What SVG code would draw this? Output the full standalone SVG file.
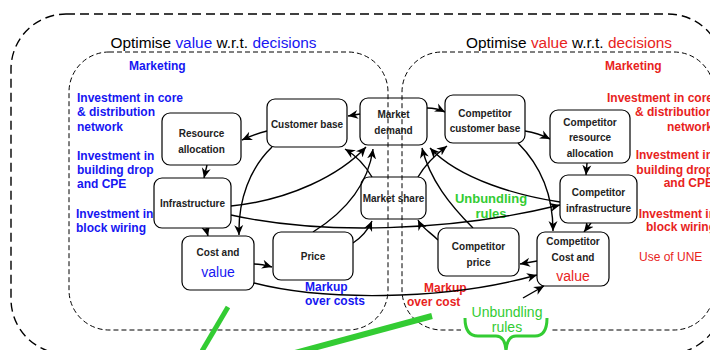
<svg xmlns="http://www.w3.org/2000/svg" width="710" height="350" viewBox="0 0 710 350">
  <defs>
    <marker id="arrow" markerUnits="userSpaceOnUse" markerWidth="11" markerHeight="11" refX="10" refY="5" orient="auto">
      <path d="M0,0.5 L10,5 L0,9.5 L3,5 Z" fill="#000"/>
    </marker>
    <style>
      text { font-family: "Liberation Sans", Arial, sans-serif; }
      .outer { fill: none; stroke: #000; stroke-width: 1.4; stroke-dasharray: 9 5; }
      .cluster { fill: none; stroke: #000; stroke-width: 1; stroke-dasharray: 5 3; }
      .title { font-size: 15.4px; fill: #000; }
      .node rect { fill: #fff; stroke: #000; stroke-width: 1.2; }
      .node.open rect { fill: none; }
      .node text { font-size: 10px; font-weight: bold; fill: #222; text-anchor: middle; }
      .node text.val { font-size: 14px; font-weight: normal; }
      .blue, .node text.blue { fill: #1616f2; }
      .red, .node text.red { fill: #e8231d; }
      .green { fill: #33cc33; }
      .side { font-size: 12px; font-weight: bold; }
      .conn path { fill: none; stroke: #000; stroke-width: 1.4; marker-end: url(#arrow); }
      .slash { stroke: #33cc33; fill: none; }
    </style>
  </defs>

  <rect width="710" height="350" fill="#fff"/>

  <!-- outer frame and the two decision clusters -->
  <rect class="outer" x="11" y="14" width="712" height="340" rx="55"/>
  <rect class="cluster" x="69" y="52" width="319" height="278" rx="40"/>
  <rect class="cluster" x="402" y="52" width="312" height="278" rx="40"/>

  <!-- headings -->
  <text class="title" x="213.5" y="48" text-anchor="middle">Optimise <tspan class="blue">value</tspan> w.r.t. <tspan class="blue">decisions</tspan></text>
  <text class="title" x="569" y="48" text-anchor="middle">Optimise <tspan class="red">value</tspan> w.r.t. <tspan class="red">decisions</tspan></text>

  <!-- left decision list -->
  <g class="side blue">
    <text x="129" y="70">Marketing</text>
    <text x="77" y="102">Investment in core</text>
    <text x="77" y="116">&amp; distribution</text>
    <text x="77" y="131">network</text>
    <text x="77" y="160">Investment in</text>
    <text x="77" y="174">building drop</text>
    <text x="77" y="188">and CPE</text>
    <text x="76" y="218">Investment in</text>
    <text x="76" y="232">block wiring</text>
    <text x="305" y="291">Markup</text>
    <text x="305" y="305">over costs</text>
  </g>

  <!-- right decision list (runs past the frame edge) -->
  <g class="side red">
    <text x="605" y="70">Marketing</text>
    <g text-anchor="end">
      <text x="713" y="102">Investment in core</text>
      <text x="713" y="116">&amp; distribution</text>
      <text x="713" y="131">network</text>
      <text x="713" y="159">Investment in</text>
      <text x="713" y="174">building drop</text>
      <text x="713" y="187">and CPE</text>
      <text x="716" y="218">Investment in</text>
      <text x="716" y="231">block wiring</text>
    </g>
    <text x="424" y="292">Markup</text>
    <text x="407" y="306">over cost</text>
  </g>
  <text x="639" y="261" font-size="12" class="red">Use of UNE</text>

  <!-- unbundling labels -->
  <g class="green" text-anchor="middle">
    <text x="491" y="203" font-size="13" font-weight="bold">Unbundling</text>
    <text x="491" y="218" font-size="13" font-weight="bold">rules</text>
  </g>
  <rect x="461" y="302" width="90" height="34" fill="#fff"/>
  <g class="green" text-anchor="middle">
    <text x="507" y="317" font-size="14">Unbundling</text>
    <text x="507" y="332" font-size="14">rules</text>
  </g>
  <path d="M465,318 Q465,336 478,336 L496,336 Q505,336 506,351 Q507,336 516,336 L535,336 Q547,336 547,318" fill="none" stroke="#33cc33" stroke-width="3"/>

  <!-- strike-through marks -->
  <path class="slash" d="M228,307 L202,351" stroke-width="5"/>
  <path class="slash" d="M432,316 L295,353" stroke-width="6"/>

  <!-- connectors -->
  <g id="connectors" class="conn">
    <path d="M267,131 Q255,134 242,140"/>
    <path d="M207,165 L204,178"/>
    <path d="M360,114 L348,116"/>
    <path d="M427,108 Q437,108 445,112"/>
    <path d="M525,131 Q538,133 550,139"/>
    <path d="M587,163 L586,175"/>
    <path d="M591,223 L584,232"/>
    <path d="M206,228 L208,236"/>
    <path d="M272,147 C250,168 238,200 239,235"/>
    <path d="M231,206 C290,200 340,175 366,147"/>
    <path d="M231,215 C320,235 450,232 560,205"/>
    <path d="M313,232 C345,212 368,185 373,149"/>
    <path d="M372,177 C365,165 355,155 345,149"/>
    <path d="M353,243 C362,237 368,230 372,221"/>
    <path d="M418,177 C425,165 435,155 447,146"/>
    <path d="M560,202 C520,196 460,180 430,148"/>
    <path d="M473,228 C450,205 430,180 422,148"/>
    <path d="M518,143 C540,165 553,195 553,231"/>
    <path d="M438,240 C430,232 422,228 418,220"/>
    <path d="M537,261 L520,264"/>
    <path d="M254,264 Q262,264 272,267"/>
    <path d="M254,283 C320,300 440,302 537,275"/>
    <path d="M523,298 L544,286"/>
  </g>

  <!-- nodes -->
  <g id="resource-allocation" class="node">
    <rect x="162" y="113" width="79" height="52" rx="8"/>
    <text x="201.5" y="137">Resource</text>
    <text x="201.5" y="153">allocation</text>
  </g>
  <g id="customer-base" class="node">
    <rect x="267" y="99" width="80" height="48" rx="8"/>
    <text x="307" y="128">Customer base</text>
  </g>
  <g id="market-demand" class="node open">
    <rect x="360" y="98" width="67" height="47" rx="8"/>
    <text x="393.5" y="118">Market</text>
    <text x="393.5" y="134">demand</text>
  </g>
  <g id="competitor-customer-base" class="node">
    <rect x="445" y="95" width="80" height="48" rx="8"/>
    <text x="485" y="117">Competitor</text>
    <text x="485" y="132">customer base</text>
  </g>
  <g id="competitor-resource-allocation" class="node">
    <rect x="550" y="110" width="80" height="53" rx="8"/>
    <text x="590" y="126">Competitor</text>
    <text x="590" y="141">resource</text>
    <text x="590" y="157">allocation</text>
  </g>
  <g id="infrastructure" class="node">
    <rect x="154" y="178" width="77" height="50" rx="8"/>
    <text x="192.5" y="207">Infrastructure</text>
  </g>
  <g id="market-share" class="node open">
    <rect x="361" y="177" width="65" height="42" rx="8"/>
    <text x="393.5" y="202">Market share</text>
  </g>
  <g id="competitor-infrastructure" class="node">
    <rect x="560" y="175" width="77" height="48" rx="8"/>
    <text x="598.5" y="196">Competitor</text>
    <text x="598.5" y="212">infrastructure</text>
  </g>
  <g id="cost-and-value" class="node">
    <rect x="182" y="236" width="72" height="54" rx="8"/>
    <text x="218" y="256">Cost and</text>
    <text x="218" y="277" class="val blue">value</text>
  </g>
  <g id="price" class="node">
    <rect x="273" y="232" width="80" height="48" rx="8"/>
    <text x="313" y="260">Price</text>
  </g>
  <g id="competitor-price" class="node">
    <rect x="438" y="228" width="81" height="48" rx="8"/>
    <text x="478.5" y="250">Competitor</text>
    <text x="478.5" y="266">price</text>
  </g>
  <g id="competitor-cost-and-value" class="node">
    <rect x="537" y="232" width="72" height="54" rx="8"/>
    <text x="573" y="245">Competitor</text>
    <text x="573" y="261">Cost and</text>
    <text x="573" y="281" class="val red">value</text>
  </g>
</svg>
